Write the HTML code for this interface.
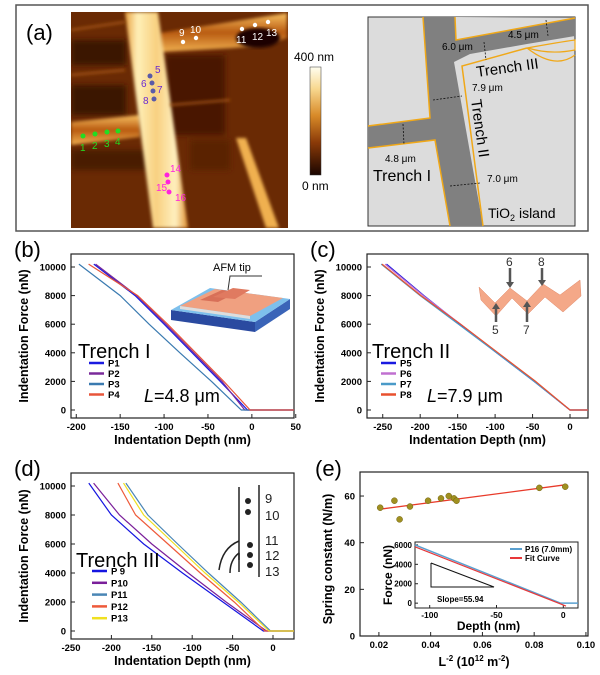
<!DOCTYPE html>
<html><head><meta charset="utf-8"><style>
html,body{margin:0;padding:0;background:#fff;}
svg{display:block;font-family:"Liberation Sans",Arial,sans-serif;}
</style></head><body>
<svg id="fig" width="600" height="675" viewBox="0 0 600 675" xmlns="http://www.w3.org/2000/svg">
<defs>
<linearGradient id="cbar" x1="0" y1="0" x2="0" y2="1">
<stop offset="0" stop-color="#fffef0"/><stop offset="0.2" stop-color="#f8d890"/><stop offset="0.45" stop-color="#d88a28"/><stop offset="0.7" stop-color="#8a3a08"/><stop offset="1" stop-color="#1a0500"/>
</linearGradient>
<linearGradient id="vband" x1="0" y1="0" x2="1" y2="0">
<stop offset="0" stop-color="#e8a040"/><stop offset="0.2" stop-color="#fff0b8"/><stop offset="0.5" stop-color="#f8d080"/><stop offset="0.8" stop-color="#fff0c0"/><stop offset="1" stop-color="#e09030"/>
</linearGradient>
<linearGradient id="hband" x1="0" y1="0" x2="0" y2="1">
<stop offset="0" stop-color="#f8c060"/><stop offset="0.5" stop-color="#b85a10"/><stop offset="1" stop-color="#f0b050"/>
</linearGradient>
<filter id="blur1"><feGaussianBlur stdDeviation="1.5"/></filter>
<filter id="blur2"><feGaussianBlur stdDeviation="3"/></filter>
<clipPath id="afmclip"><rect x="71" y="12" width="217" height="216"/></clipPath>
</defs>

<!-- Panel (a) -->
<rect x="16" y="5" width="572" height="226" fill="#fff" stroke="#555" stroke-width="1.5"/>
<text x="26" y="40" font-size="22">(a)</text>

<g clip-path="url(#afmclip)">
<rect x="71" y="12" width="217" height="216" fill="#6a2a04"/>
<g filter="url(#blur2)">
<rect x="71" y="40" width="55" height="25" fill="#3a1200"/>
<rect x="71" y="85" width="55" height="30" fill="#3a1200"/>
<rect x="165" y="55" width="60" height="80" fill="#4a1800"/>
<rect x="71" y="150" width="80" height="20" fill="#4a1a02"/>
<rect x="190" y="140" width="40" height="30" fill="#5a2000"/>
</g>
<polygon points="160,33 287,13 287,38 265,45 233,48 160,52" fill="url(#hband)" filter="url(#blur1)"/>
<ellipse cx="258" cy="38" rx="22" ry="10" fill="#1e0600" filter="url(#blur1)"/>
<polygon points="71,122 140,115 140,137 71,145" fill="url(#hband)" filter="url(#blur1)"/>
<polygon points="125,12 158,12 188,228 153,228" fill="url(#vband)" filter="url(#blur1)"/>
<polygon points="236,138 246,138 279,228 266,228" fill="#f0b050" filter="url(#blur1)"/>
<path d="M71,30 L125,22 M71,75 L125,70 M170,105 L230,100" stroke="#a85818" stroke-width="2" filter="url(#blur1)"/>
</g>
<g font-size="10">
<g fill="#22dd22"><circle cx="83" cy="136" r="2.5"/><circle cx="95" cy="134" r="2.5"/><circle cx="107" cy="132" r="2.5"/><circle cx="118" cy="131" r="2.5"/>
<text x="80" y="151">1</text><text x="92" y="149">2</text><text x="104" y="147">3</text><text x="115" y="145">4</text></g>
<g fill="#5a5aa8"><circle cx="150" cy="76" r="2.5"/><circle cx="152" cy="83" r="2.5"/><circle cx="153" cy="91" r="2.5"/><circle cx="154" cy="99" r="2.5"/></g>
<g fill="#6a2ad0"><text x="155" y="73">5</text><text x="141" y="87">6</text><text x="157" y="93">7</text><text x="143" y="104">8</text></g>
<g fill="#fff"><circle cx="183" cy="42" r="2.2"/><circle cx="196" cy="38" r="2.2"/><circle cx="242" cy="29" r="2.2"/><circle cx="255" cy="25" r="2.2"/><circle cx="268" cy="22" r="2.2"/>
<text x="179" y="36">9</text><text x="190" y="33">10</text><text x="236" y="43">11</text><text x="252" y="40">12</text><text x="266" y="36">13</text></g>
<g fill="#ff22dd"><circle cx="167" cy="175" r="2.5"/><circle cx="168" cy="182" r="2.5"/><circle cx="169" cy="192" r="2.5"/>
<text x="170" y="172">14</text><text x="156" y="191">15</text><text x="175" y="201">16</text></g>
</g>
<rect x="310" y="67" width="11" height="108" fill="url(#cbar)" stroke="#333" stroke-width="0.5"/>
<text x="294" y="61" font-size="12">400 nm</text>
<text x="302" y="190" font-size="12">0 nm</text>

<!-- Schematic -->
<g>
<rect x="368" y="17" width="207" height="209" fill="#dcdcdc" stroke="#333" stroke-width="1"/>
<polygon points="423,17 575,17 575,36 527,44 470,54 454,62 483,226 450,226 435,140 368,148 368,126 430,118" fill="#808080"/>
<path d="M423,17 L430,118 L368,126 M368,148 L435,140 L450,226 M483,226 L462,66 L527,48" fill="none" stroke="#f0a818" stroke-width="1.5"/>
<path d="M455,17 L456,40 L575,18" fill="#dcdcdc" stroke="#f0a818" stroke-width="1.5"/>
<path d="M527,48 Q560,42 575,40 L575,50 Q550,55 528,48" fill="#dcdcdc" stroke="#f0a818" stroke-width="1.2"/>
<path d="M527,48 Q555,70 575,55" fill="none" stroke="#f0a818" stroke-width="1.2"/>
<g stroke="#111" stroke-width="0.8" stroke-dasharray="2,1.5"><line x1="484" y1="42" x2="486" y2="60"/><line x1="546" y1="20" x2="548" y2="36"/><line x1="433" y1="100" x2="462" y2="96"/><line x1="403" y1="124" x2="404" y2="145"/><line x1="450" y1="186" x2="480" y2="183"/></g>
<text x="442" y="50" font-size="10">6.0 μm</text>
<text x="508" y="38" font-size="10">4.5 μm</text>
<text x="477" y="77" font-size="15" transform="rotate(-8 477 77)">Trench III</text>
<text x="472" y="91" font-size="10">7.9 μm</text>
<text x="471" y="100" font-size="15" transform="rotate(82 471 100)">Trench II</text>
<text x="385" y="162" font-size="10">4.8 μm</text>
<text x="373" y="181" font-size="16">Trench I</text>
<text x="487" y="182" font-size="10">7.0 μm</text>
<text x="488" y="218" font-size="14">TiO<tspan font-size="9" dy="3">2</tspan><tspan dy="-3"> island</tspan></text>
</g>

<!-- panel labels -->
<text x="14" y="257" font-size="22">(b)</text>
<text x="310" y="257" font-size="22">(c)</text>
<text x="14" y="476" font-size="22">(d)</text>
<text x="315" y="476" font-size="22">(e)</text>

<!-- inset b -->
<g>
<polygon points="171,310 255,322 255,332 171,320" fill="#2a4aa0"/>
<polygon points="255,322 290,299 290,309 255,332" fill="#3a64b8"/>
<polygon points="171,310 255,322 290,299 210,288" fill="#7ec0ec"/>
<polygon points="180,306 250,316 283,298 215,289" fill="#f0a080"/>
<polygon points="200,300 218,302 238,292 222,290" fill="#d87058"/>
<polygon points="213,297 235,299 250,290 233,288" fill="#e07a60"/>
<polygon points="180,306 250,316 250,319 180,309" fill="#ddd"/>
<path d="M228,290 L230,276 L262,276" fill="none" stroke="#333" stroke-width="1"/>
<text x="213" y="271" font-size="11">AFM tip</text>
</g>
<!-- inset c -->
<g>
<path d="M479,287 L495,303 L510,288 L527,301 L543,284 L560,295 L580,280 L581,296 L563,312 L545,297 L528,314 L512,298 L496,316 L481,300 Z" fill="#f4a888" stroke="#e08868" stroke-width="0.5"/>
<g stroke="#555" stroke-width="2.5"><line x1="510" y1="268" x2="510" y2="286"/><line x1="542" y1="268" x2="542" y2="283"/><line x1="496" y1="322" x2="496" y2="305"/><line x1="527" y1="322" x2="527" y2="303"/></g>
<g fill="#555"><polygon points="506,282 514,282 510,288"/><polygon points="538,280 546,280 542,286"/><polygon points="492,309 500,309 496,303"/><polygon points="523,307 531,307 527,301"/></g>
<g font-size="12" fill="#333"><text x="506" y="266">6</text><text x="538" y="266">8</text><text x="492" y="334">5</text><text x="523" y="334">7</text></g>
</g>
<!-- inset d -->
<g fill="none" stroke="#222" stroke-width="1.5">
<line x1="239" y1="487" x2="239" y2="560"/><line x1="259" y1="485" x2="259" y2="577"/>
<path d="M239,541 Q222,548 219,570"/><path d="M239,553 Q230,560 230,573"/>
<line x1="239" y1="553" x2="239" y2="572"/>
</g>
<g fill="#222" font-size="13">
<circle cx="248" cy="501" r="3"/><circle cx="248" cy="512" r="3"/><circle cx="250" cy="545" r="3"/><circle cx="250" cy="555" r="3"/><circle cx="250" cy="565" r="3"/>
<text x="265" y="503">9</text><text x="265" y="520">10</text><text x="265" y="545">11</text><text x="265" y="560">12</text><text x="265" y="576">13</text>
</g>
<g id="charts"></g>
</svg>
<script>
// ===== Panel (b) data =====
const forceLevels = [10200, 8000, 6000, 4000, 2000, 0];
const bNames = ["P1","P2","P3","P4"];
const bP1 = [-180,-133,-100,-68,-36,-5];
const bP2 = [-178,-131,-98,-66,-34,-8];
const bP3 = [-197,-150,-117,-82,-46,-12];
const bP4 = [-186,-130,-96,-64,-32,-2];
// ===== Panel (c) data =====
const cNames = ["P5","P6","P7","P8"];
const cP5 = [-245,-195,-147,-98,-48,0];
const cP6 = [-247,-196,-146,-97,-47,0];
const cP7 = [-252,-200,-149,-98,-48,0];
const cP8 = [-251,-199,-146,-96,-46,0];
// ===== Panel (d) data =====
const dNames = ["P 9","P10","P11","P12","P13"];
const dP9 = [-228,-200,-160,-112,-62,-12];
const dP10 = [-222,-190,-150,-105,-58,-8];
const dP11 = [-182,-155,-118,-80,-40,-3];
const dP12 = [-192,-170,-130,-90,-48,-10];
const dP13 = [-185,-160,-122,-84,-43,-5];
// ===== Panel (e) data =====
const eX = [0.0205,0.026,0.028,0.032,0.039,0.044,0.047,0.049,0.050,0.082,0.092];
const eY = [55,58,50,55.5,58,59,60,59,58,63.5,64];
const eFitX = [0.02,0.092];
const eFitY = [54.3,64.8];
const insetDepthP16 = [-111,-2,11];
const insetForceP16 = [6000,0,0];
const insetDepthFit = [-111,2];
const insetForceFit = [5800,-300];
const yTicksForce = [0,2000,4000,6000,8000,10000];

const NS="http://www.w3.org/2000/svg";
const root=document.getElementById('charts');
function mk(tag,attrs,parent){const e=document.createElementNS(NS,tag);for(const k in attrs)e.setAttribute(k,attrs[k]);(parent||root).appendChild(e);return e;}
function txt(x,y,s,size,extra,parent){const t=mk('text',Object.assign({x:x,y:y,'font-size':size},extra||{}),parent);t.textContent=s;return t;}
function scale(d0,d1,r0,r1){return v=>r0+(v-d0)/(d1-d0)*(r1-r0);}

function axesFrame(g,L,R,T,B){
  const f=mk('rect',{x:L,y:T,width:R-L,height:B-T,fill:'none',stroke:'#222','stroke-width':1.2},g);
  
  
}
function forcePanel(name,L,R,T,B,xd,xticks,series,colors,names,legX,legY,legStep,flatTo){
  const g=mk('g',{});
  
  
  const sx=scale(xd[0],xd[1],L,R), sy=scale(0,10000,B-8,T+13);
  axesFrame(g,L,R,T,B);
  yTicksForce.forEach(v=>{const y=sy(v);mk('line',{x1:L,x2:L+4,y1:y,y2:y,stroke:'#222'},g);
    const t=txt(L-5,y+3.5,v,9.5,{'text-anchor':'end','font-weight':'bold'},g);
    });
  xticks.forEach(v=>{const x=sx(v);mk('line',{x1:x,x2:x,y1:B,y2:B-4,stroke:'#222'},g);
    const t=txt(x,B+12,v,9.5,{'text-anchor':'middle','font-weight':'bold'},g);
    });
  series.forEach((arr,i)=>{
    let d='';arr.forEach((v,j)=>{d+=(j?'L':'M')+sx(v).toFixed(1)+','+sy(forceLevels[j]).toFixed(1);});
    d+='L'+sx(arr[arr.length-1]+3).toFixed(1)+','+sy(0).toFixed(1)+'L'+sx(flatTo).toFixed(1)+','+sy(0).toFixed(1);
    const p=mk('path',{d:d,fill:'none',stroke:colors[i],'stroke-width':1.2},g);
    
    
    const ly=legY+i*legStep;
    const ll=mk('line',{x1:legX,x2:legX+15,y1:ly,y2:ly,stroke:colors[i],'stroke-width':2.5},g);
    
    const lt=txt(legX+19,ly+3.5,names[i],9.5,{'font-weight':'bold'},g);
    
  });
  const yl=txt(0,0,'Indentation Force (nN)',12.5,{'font-weight':'bold','text-anchor':'middle',transform:'translate('+(L-43)+','+((T+B)/2)+') rotate(-90)'},g);
  
  const xl=txt((L+R)/2,B+26,'Indentation Depth (nm)',12.5,{'font-weight':'bold','text-anchor':'middle'},g);
  
  return g;
}
const gb=forcePanel('chart-b',71,294,254,418,[-206,48],[-200,-150,-100,-50,0,50],[bP1,bP2,bP3,bP4],['#1a1ae0','#7a2a9a','#3a7ab0','#e8553a'],bNames,89,363,10.5,48);
txt(78,358,'Trench I',20,{'font-family':'Liberation Sans, sans-serif'},gb);
txt(144,402,'',18,{},gb).innerHTML='<tspan font-style="italic">L</tspan>=4.8 μm';
const gc=forcePanel('chart-c',367,588,254,418,[-271,24],[-250,-200,-150,-100,-50,0],[cP5,cP6,cP7,cP8],['#1a1ae0','#c070d0','#4a9ac8','#e8502e'],cNames,381,363,10.5,24);
txt(372,358,'Trench II',20,{},gc);
txt(427,402,'',18,{},gc).innerHTML='<tspan font-style="italic">L</tspan>=7.9 μm';
const gd=forcePanel('chart-d',71,294,473,639,[-250,26],[-250,-200,-150,-100,-50,0],[dP9,dP10,dP11,dP12,dP13],['#1515e0','#7a1f9a','#4a86b5','#ee5a3a','#f0e020'],dNames,92,571,11.8,26);
txt(76,567,'Trench III',20,{},gd);

// Panel (e)
(function(){
  const L=360,R=588,T=472,B=636;
  const g=mk('g',{});
  
  
  const sx=scale(0.0127,0.1008,L,R), sy=scale(0,70.3,B,T);
  axesFrame(g,L,R,T,B);
  [0,20,40,60].forEach(v=>{const y=sy(v);mk('line',{x1:L,x2:L+4,y1:y,y2:y,stroke:'#222'},g);
    const t=txt(L-5,y+3.5,v,9.5,{'text-anchor':'end','font-weight':'bold'},g);
    });
  [0.02,0.04,0.06,0.08,0.10].forEach(v=>{const x=sx(v);mk('line',{x1:x,x2:x,y1:B,y2:B-4,stroke:'#222'},g);
    const t=txt(x,B+12,v.toFixed(2),9.5,{'text-anchor':'middle','font-weight':'bold'},g);
    });
  const fit=mk('line',{x1:sx(eFitX[0]),y1:sy(eFitY[0]),x2:sx(eFitX[1]),y2:sy(eFitY[1]),stroke:'#e83a2a','stroke-width':1.3},g);
  
  eX.forEach((x,i)=>{const c=mk('circle',{cx:sx(x),cy:sy(eY[i]),r:3,fill:'#a09020',stroke:'#706010','stroke-width':0.5},g);
    });
  const yl=txt(0,0,'Spring constant (N/m)',12.5,{'font-weight':'bold','text-anchor':'middle',transform:'translate('+(L-28)+','+((T+B)/2+5)+') rotate(-90)'},g);
  
  const xl=txt((L+R)/2,B+30,'',12.5,{'font-weight':'bold','text-anchor':'middle'},g);
  xl.innerHTML='L<tspan dy="-5" font-size="8">-2</tspan><tspan dy="5"> (10</tspan><tspan dy="-5" font-size="8">12</tspan><tspan dy="5"> m</tspan><tspan dy="-5" font-size="8">-2</tspan><tspan dy="5">)</tspan>';
  
  // inset
  const iL=415,iR=578,iT=542,iB=608;
  const ix=scale(-111,11,iL,iR), iy=scale(-500,6300,iB,iT);
  const ig=mk('g',{},g);
  
  
  mk('rect',{x:iL,y:iT,width:iR-iL,height:iB-iT,fill:'#fff',stroke:'#222','stroke-width':1},ig);
  [0,2000,4000,6000].forEach(v=>{const y=iy(v);mk('line',{x1:iL,x2:iL+3,y1:y,y2:y,stroke:'#222'},ig);
    txt(iL-3,y+3,v,8,{'text-anchor':'end','font-weight':'bold'},ig);});
  [-100,-50,0].forEach(v=>{const x=ix(v);mk('line',{x1:x,x2:x,y1:iB,y2:iB-3,stroke:'#222'},ig);
    txt(x,iB+10,v,8.5,{'text-anchor':'middle','font-weight':'bold'},ig);});
  let d='';insetDepthP16.forEach((v,j)=>{d+=(j?'L':'M')+ix(v)+','+iy(insetForceP16[j]);});
  const p1=mk('path',{d:d,fill:'none',stroke:'#5aa0d0','stroke-width':1.5},ig);
  
  let d2='';insetDepthFit.forEach((v,j)=>{d2+=(j?'L':'M')+ix(v)+','+iy(insetForceFit[j]);});
  const p2=mk('path',{d:d2,fill:'none',stroke:'#e8383a','stroke-width':1.2},ig);
  
  mk('polyline',{points:'431,563 431,587 494,587 431,563',fill:'none',stroke:'#111','stroke-width':1},ig);
  txt(437,602,'Slope=55.94',8,{'font-weight':'bold'},ig);
  mk('line',{x1:510,x2:522,y1:549,y2:549,stroke:'#5aa0d0','stroke-width':2},ig);
  txt(525,552,'P16 (7.0mm)',8,{'font-weight':'bold'},ig);
  mk('line',{x1:510,x2:522,y1:558,y2:558,stroke:'#e8383a','stroke-width':2},ig);
  txt(525,561,'Fit Curve',8,{'font-weight':'bold'},ig);
  txt(0,0,'Force (nN)',12,{'font-weight':'bold','text-anchor':'middle',transform:'translate(392,575) rotate(-90)'},ig);
  txt((iL+iR)/2-8,iB+22,'Depth (nm)',12,{'font-weight':'bold','text-anchor':'middle'},ig);
})();
</script>
</body></html>
